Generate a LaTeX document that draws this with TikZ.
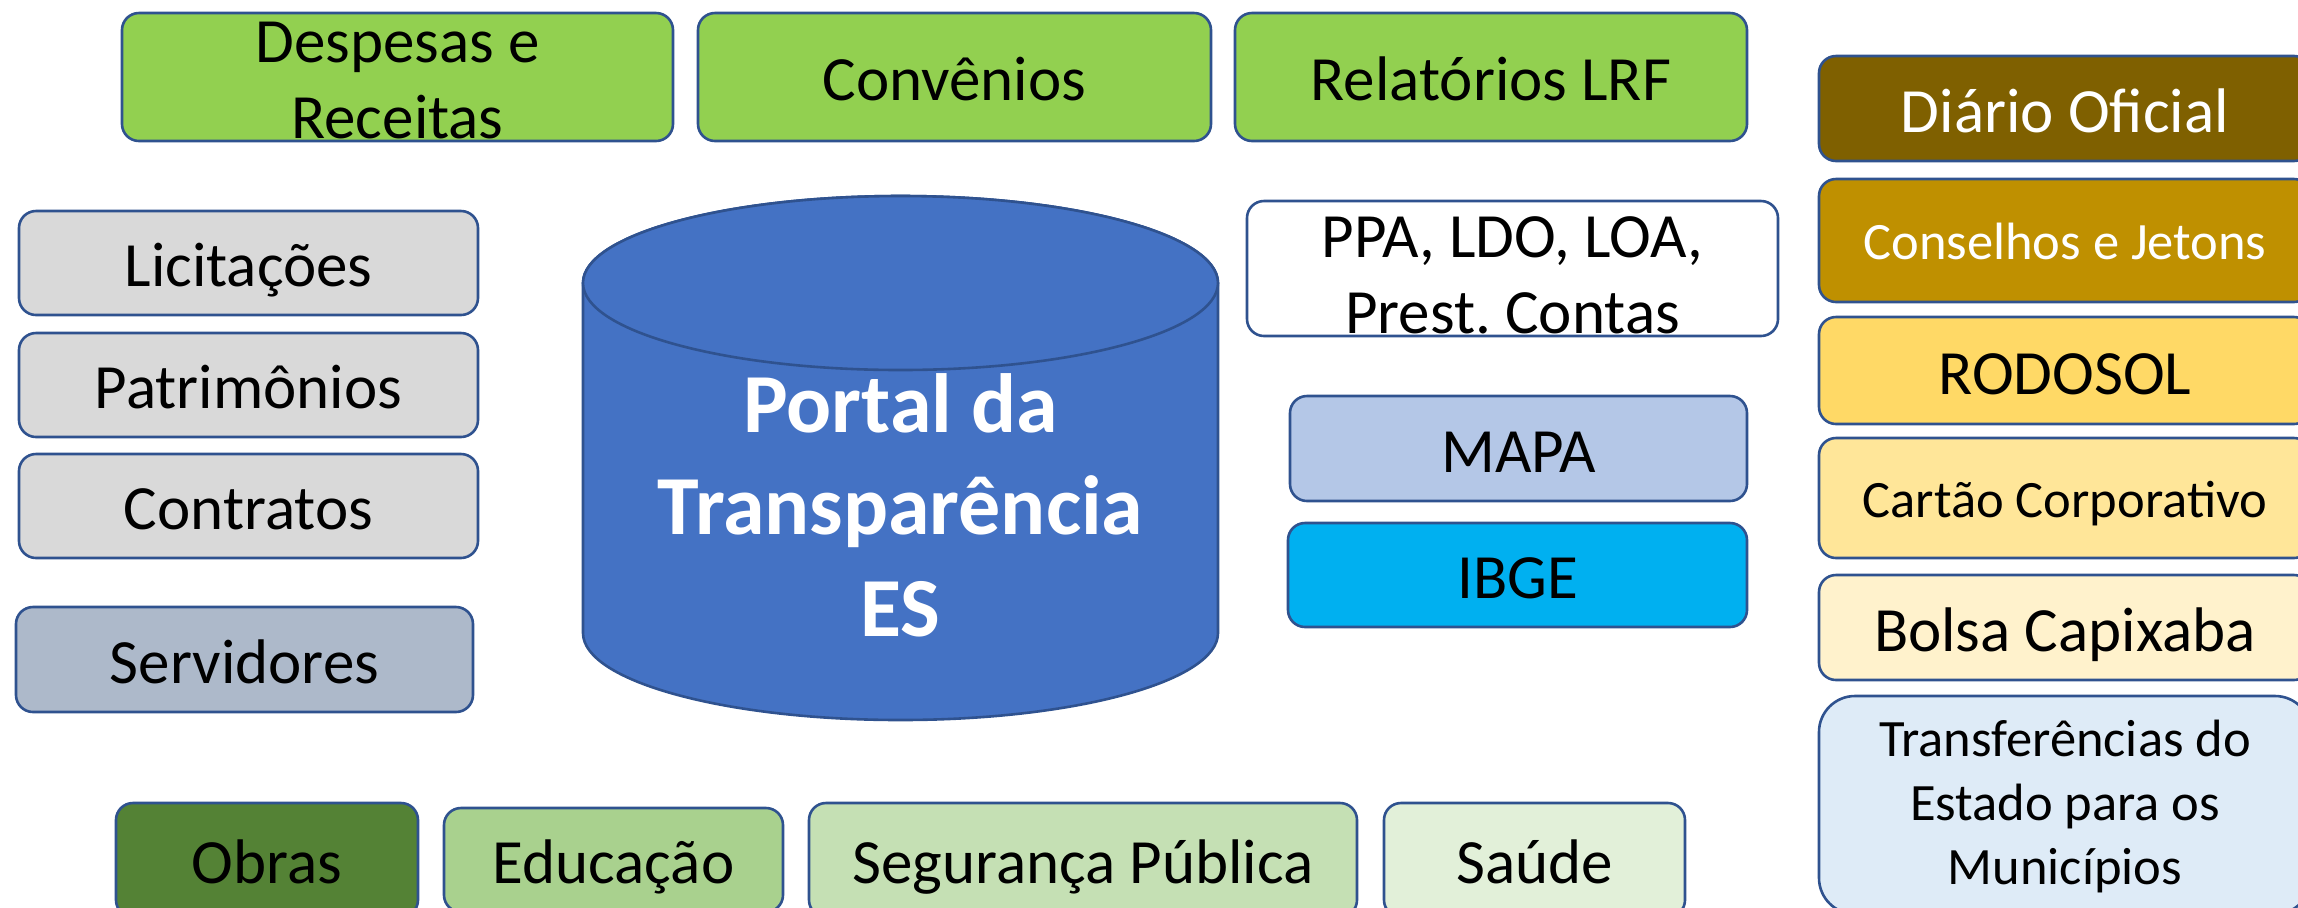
\documentclass[tikz,border=0pt]{standalone}
\usepackage{fontspec}
\setmainfont{Carlito}
\frenchspacing
\definecolor{bord}{HTML}{2F528F}
\definecolor{gA}{HTML}{92D050}
\definecolor{grayA}{HTML}{D9D9D9}
\definecolor{servC}{HTML}{ADB9CA}
\definecolor{cyl}{HTML}{4472C4}
\definecolor{diar}{HTML}{7F6000}
\definecolor{consC}{HTML}{BF9000}
\definecolor{rodo}{HTML}{FFD966}
\definecolor{cart}{HTML}{FFE699}
\definecolor{bols}{HTML}{FFF2CC}
\definecolor{transC}{HTML}{DEEBF7}
\definecolor{mapaC}{HTML}{B4C7E7}
\definecolor{ibgeC}{HTML}{00B0F0}
\definecolor{obrasC}{HTML}{548235}
\definecolor{eduC}{HTML}{A9D18E}
\definecolor{segC}{HTML}{C5E0B4}
\definecolor{saudeC}{HTML}{E2F0D9}
\begin{document}
\begin{tikzpicture}[x=0.5pt,y=-0.5pt,
  box/.style={draw=bord, line width=1.3pt, rounded corners=8.5pt, inner sep=0pt},
  txt/.style={inner sep=0pt, text=black, font=\fontsize{31.5}{38}\selectfont, text height=27.5pt, text depth=4pt},
  stxt/.style={inner sep=0pt, text=black, font=\fontsize{26.25}{32}\selectfont, text height=22pt, text depth=3pt},
  mtxt/.style={align=center, inner sep=0pt, text=black, font=\fontsize{31.5}{38}\selectfont},
  mstxt/.style={align=center, inner sep=0pt, text=black, font=\fontsize{26.25}{32}\selectfont}]
\useasboundingbox (0,0) rectangle (2298,907);
\clip (0,0) rectangle (2298,907);

% top row
\node[box, fill=gA, minimum width=275.5pt, minimum height=64pt] (desp) at (397.5,77) {};
\node[mtxt, yshift=-1.8pt] (despt) at (desp) {Despesas e\\Receitas};
\node[box, fill=gA, minimum width=256.5pt, minimum height=64pt] (conv) at (954.5,77) {};
\node[txt] (convt) at (conv) {Convênios};
\node[box, fill=gA, minimum width=256pt, minimum height=64pt] (lrf) at (1491,77) {};
\node[txt] (lrft) at (lrf) {Relatórios LRF};

% left column
\node[box, fill=grayA, minimum width=229.5pt, minimum height=52pt] (lic) at (248.5,263) {};
\node[txt] (lict) at (lic) {Licitações};
\node[box, fill=grayA, minimum width=229.5pt, minimum height=52pt] (pat) at (248.5,385) {};
\node[txt] (patt) at (pat) {Patrimônios};
\node[box, fill=grayA, minimum width=229.5pt, minimum height=52pt] (cont) at (248.5,506) {};
\node[txt] (contt) at (cont) {Contratos};
\node[box, fill=servC, minimum width=228.5pt, minimum height=52.5pt] (serv) at (244.5,659.5) {};
\node[txt] (servt) at (serv) {Servidores};

% cylinder
\filldraw[fill=cyl, draw=bord, line width=1.3pt] (583,283) -- (583,633)
  arc[start angle=180, end angle=0, x radius=317.5, y radius=87] -- (1218,283)
  arc[start angle=0, end angle=-180, x radius=317.5, y radius=87] -- cycle;
\filldraw[fill=cyl, draw=bord, line width=1.3pt] (900.5,283) ellipse [x radius=317.5, y radius=87];
\node[align=center, inner sep=0pt, text=white, font=\bfseries\fontsize{42}{51}\selectfont] (portal) at (900.5,505) {Portal da\\Transparência\\ES};

% middle right column
\node[box, fill=white, minimum width=265.5pt, minimum height=67.5pt] (ppa) at (1512.5,268.5) {};
\node[mtxt, yshift=-3.2pt] (ppat) at (ppa) {PPA, LDO, LOA,\\Prest. Contas};
\node[box, fill=mapaC, minimum width=228.5pt, minimum height=52.5pt] (mapa) at (1518.5,448.5) {};
\node[txt] (mapat) at (mapa) {MAPA};
\node[box, fill=ibgeC, minimum width=229.5pt, minimum height=52pt] (ibge) at (1517.5,575) {};
\node[txt] (ibget) at (ibge) {IBGE};

% right column
\node[box, fill=diar, minimum width=246pt, minimum height=52.5pt] (diario) at (2065,108.5) {};
\node[txt, text=white] (diariot) at (diario) {Diário Oficial};
\node[box, fill=consC, minimum width=246pt, minimum height=61.5pt] (cons) at (2065,240.5) {};
\node[stxt, text=white] (const) at (cons) {Conselhos e Jetons};
\node[box, fill=rodo, minimum width=246pt, minimum height=53.5pt] (rodosol) at (2065,370.5) {};
\node[txt] (rodosolt) at (rodosol) {RODOSOL};
\node[box, fill=cart, minimum width=246pt, minimum height=60pt] (cartao) at (2065,498) {};
\node[stxt] (cartaot) at (cartao) {Cartão Corporativo};
\node[box, fill=bols, minimum width=246pt, minimum height=52.5pt] (bolsa) at (2065,627.5) {};
\node[txt] (bolsat) at (bolsa) {Bolsa Capixaba};
\node[box, fill=transC, rounded corners=18pt, minimum width=246pt, minimum height=109pt] (transf) at (2065,805) {};
\node[mstxt, yshift=-0.6pt] (transft) at (transf) {Transferências do\\Estado para os\\Municípios};

% bottom row
\node[box, fill=obrasC, minimum width=151pt, minimum height=57pt] (obras) at (267,860) {};
\node[txt] (obrast) at (obras) {Obras};
\node[box, fill=eduC, minimum width=169.5pt, minimum height=52pt] (edu) at (613.5,860) {};
\node[txt] (edut) at (edu) {Educação};
\node[box, fill=segC, minimum width=274pt, minimum height=57pt] (seg) at (1083,860) {};
\node[txt] (segt) at (seg) {Segurança Pública};
\node[box, fill=saudeC, minimum width=150.5pt, minimum height=57pt] (saude) at (1534.5,860) {};
\node[txt] (saudet) at (saude) {Saúde};
\end{tikzpicture}
\end{document}
